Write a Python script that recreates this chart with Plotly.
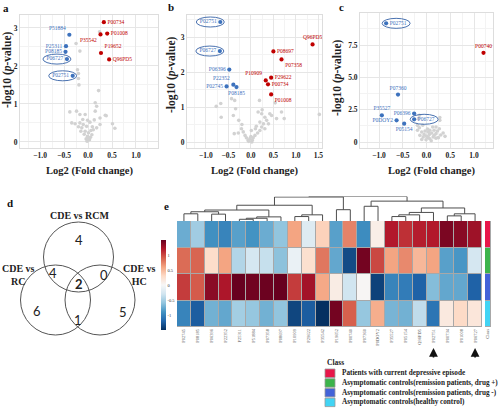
import plotly.graph_objects as go

W, H = 500, 410
SERIF = "Liberation Serif"
SANS = "Lato"

# ---------------- data ----------------
# Volcano a: CDE vs RCM
a_ids = ["P00734", "P01008", "P35542", "P19652", "Q96PD5", "P51884", "P25311", "P08185", "P06727", "P02751"]
a_fc = [0.33, 0.40, 0.26, 0.27, 0.44, -0.39, -0.46, -0.47, -0.44, -0.32]
a_p = [3.15, 2.85, 2.83, 2.34, 2.17, 2.82, 2.52, 2.37, 2.18, 1.74]
a_bg = [(0.24, 2.90), (-0.25, 2.59), (-0.17, 2.39), (-0.22, 1.90), (-0.20, 1.80), (-0.20, 1.67), (-0.19, 1.50),
        (0.22, 1.35), (0.15, 1.03), (0.18, 0.94), (0.36, 0.70), (-0.24, 0.81), (-0.17, 0.72), (-0.06, 0.72),
        (0.15, 0.81), (0.25, 0.63), (0.38, 0.69), (-0.11, 0.59), (-0.01, 0.57), (0.04, 0.52), (-0.10, 0.46),
        (-0.03, 0.41), (-0.13, 0.37), (-0.06, 0.28), (0.01, 0.24), (-0.01, 0.15), (-0.04, 0.08), (0.03, 0.06),
        (0.08, 0.19), (0.11, 0.32), (0.18, 0.37), (0.25, 0.46), (-0.17, 0.50), (-0.27, 0.48), (-0.34, 0.50),
        (-0.20, 0.40), (0.51, 0.48), (0.56, 0.36), (0.13, 0.58), (0.09, 0.40), (-0.08, 0.20), (0.05, 0.12),
        (-0.02, 0.02), (0.00, 0.10), (0.06, 0.30), (-0.15, 0.28), (-0.38, 0.79)]

# Volcano b: CDE vs RC
b_ids = ["Q96PD5", "P08697", "P07358", "P29622", "P10909", "P00734", "P01008", "P02751", "P06727", "P06396",
         "P22352", "P02745", "P08185"]
b_fc = [1.37, 0.50, 0.68, 0.45, 0.33, 0.38, 0.45, -0.68, -0.69, -0.48, -0.39, -0.54, -0.32]
b_p = [2.79, 2.59, 2.36, 1.84, 1.76, 1.65, 1.36, 3.43, 2.60, 2.07, 1.64, 1.59, 1.57]
b_bg = [(-0.77, 1.02), (-0.67, 1.10), (-0.66, 0.71), (-0.43, 1.24), (-0.36, 1.19), (-0.34, 0.95), (-0.39, 0.76),
        (-0.27, 0.62), (-0.21, 0.38), (-0.37, 0.24), (-0.28, 0.26), (-0.17, 0.29), (-0.13, 0.19), (-0.10, 0.12),
        (-0.02, 0.10), (-0.06, 0.05), (0.03, 0.05), (0.05, 0.12), (0.00, 0.16), (0.09, 0.19), (0.15, 0.26),
        (0.20, 0.33), (0.24, 0.43), (0.31, 0.38), (0.28, 0.52), (0.35, 0.62), (0.31, 0.71), (0.20, 0.57),
        (0.39, 0.52), (0.42, 0.81), (0.24, 0.81), (0.16, 0.86), (0.25, 0.92), (0.46, 0.76), (0.57, 0.67),
        (0.74, 0.67), (0.19, 1.19), (0.54, 1.12), (0.01, 0.33), (0.10, 0.38), (0.68, 0.86), (1.52, 0.79),
        (-0.05, 0.02), (0.02, 0.00), (-0.20, 0.50), (0.12, 0.45)]

# Volcano c: CDE vs HC
c_ids = ["P00740", "P02751", "P07360", "P35527", "P06396", "P0DOY2", "P06727", "P05154"]
c_fc = [1.20, -0.85, -0.60, -0.94, -0.26, -0.63, -0.26, -0.47]
c_p = [6.90, 9.18, 3.67, 2.07, 2.20, 1.68, 1.76, 1.42]
c_bg = [(-0.19, 1.29), (-0.15, 1.11), (-0.19, 0.91), (-0.10, 0.78), (-0.05, 0.59), (0.00, 0.44), (0.04, 0.34),
        (0.07, 0.26), (-0.01, 0.18), (0.14, 0.39), (0.20, 0.65), (0.23, 0.85), (0.27, 1.03), (0.28, 1.68),
        (0.28, 1.89), (0.20, 1.16), (0.16, 0.91), (0.11, 0.70), (0.06, 0.59), (0.35, 0.70), (0.39, 0.44),
        (0.25, 0.34), (-0.07, 0.39), (-0.14, 0.52), (-0.03, 0.85), (0.07, 0.91), (0.13, 1.16), (-0.17, 1.81),
        (-0.15, 2.07), (0.04, 0.78), (0.16, 0.52), (0.10, 0.10), (0.20, 0.30), (-0.10, 0.20), (0.30, 0.55),
        (0.02, 1.00), (-0.08, 1.30)]

# Heatmap
hm_cols = ["P02745", "P08185", "P06396", "P22352", "P25311", "P51884", "P07358", "P08697", "P10909", "P29622",
           "P35542", "P19652", "P00740", "P07360", "P0DOY2", "P35527", "P05154", "Q96PD5", "P02751", "P00734",
           "P01008", "P06727"]
hm_z = [
    [-0.75, -0.53, -0.92, -1.0, -0.82, -0.9, -0.75, -0.6, 0.6, -0.2, 0.35, -0.82, 0.75, -0.95, 0.1, 1.2, 1.1, 1.18, 1.2, 1.42, 1.37, 1.28],
    [0.85, 0.88, 0.28, 0.6, -0.45, -0.27, -0.35, -0.62, -0.1, 0.25, 0.8, -0.78, -1.35, 1.45, 1.0, 0.6, 0.72, 0.5, 0.6, -0.82, -0.88, -0.27],
    [1.05, 0.92, 1.36, 1.22, 1.5, 1.46, 1.48, 1.5, 1.05, 1.26, 0.58, 0.12, -0.3, 0.02, -1.4, -1.0, -1.05, -1.22, -0.65, -0.78, -0.78, -1.22],
    [-1.0, -1.25, -0.72, -0.78, -0.52, -0.58, -0.72, -0.6, -1.38, -1.25, -1.5, 1.45, 0.9, -0.58, 0.55, -0.7, -0.72, -0.38, -1.1, 0.15, 0.3, 0.18],
]
class_names = ["Patients with current depressive episode",
               "Asymptomatic controls(remission patients, drug +)",
               "Asymptomatic controls(remission patients, drug -)",
               "Asymptomatic controls(healthy control)"]
class_colors = ["#e8174a", "#3cb44b", "#4363d8", "#42d4f4"]
# dendrogram merges: (left node, right node, height); leaves 0..21, new nodes 22..
dendro_merges = [(0, 1, 21), (2, 3, 20), (22, 23, 27), (4, 5, 5), (25, 6, 8), (26, 7, 12), (24, 27, 32),
                 (8, 9, 13), (29, 10, 18), (28, 30, 46), (11, 12, 33), (31, 32, 70), (13, 14, 43),
                 (15, 16, 13), (35, 17, 18), (36, 18, 25), (19, 20, 15), (38, 21, 21), (37, 39, 38),
                 (34, 40, 58), (33, 41, 71.5)]
set_titles = ["CDE vs RCM", "CDE vs<br>RC", "CDE vs<br>HC"]

# ---------------- helpers ----------------
def fx(px):
    return px / W

def fy(py):
    return 1 - py / H

RED, BLUE, GRAYPT = "#c00000", "#3d72bd", "#d2d2d2"
GRID, MINOR = "#e6e6e6", "#f3f3f3"
LBLW = 17

a_pos = {"P00734": "middle right", "P01008": "middle right", "P35542": "bottom left", "P19652": "top right",
         "Q96PD5": "middle right", "P51884": "top left", "P25311": "middle left", "P08185": "middle left",
         "P06727": "middle left", "P02751": "middle left"}
b_pos = {"Q96PD5": "top center", "P08697": "middle right", "P07358": "bottom right", "P29622": "middle right",
         "P10909": "top left", "P00734": "middle right", "P01008": "bottom right", "P02751": "middle left",
         "P06727": "middle left", "P06396": "middle left", "P22352": "top left", "P02745": "middle left",
         "P08185": "bottom center"}
c_pos = {"P00740": "top center", "P02751": "middle right", "P07360": "top center", "P35527": "top center",
         "P06396": "middle left", "P0DOY2": "middle left", "P06727": "middle right", "P05154": "bottom center"}

panels = [
    dict(letter="a", ids=a_ids, fc=a_fc, p=a_p, bg=a_bg, pos=a_pos, xa="x", ya="y", dx=(20, 158), dy=(15, 148),
         xr=[-1.42, 1.46], yr=[-0.16, 3.34], ytv=[0, 1, 2, 3], ytt=["0", "1", "2", "3"], ymin=0.5,
         letter_xy=(6, 8), xt_xy=(89, 171), yt_xy=(7, 70)),
    dict(letter="b", ids=b_ids, fc=b_fc, p=b_p, bg=b_bg, pos=b_pos, xa="x2", ya="y2", dx=(187, 322), dy=(15, 148),
         xr=[-1.42, 1.58], yr=[-0.17, 3.63], ytv=[0, 1, 2, 3], ytt=["0", "1", "2", "3"], ymin=0.5,
         letter_xy=(171, 7), xt_xy=(254, 171), yt_xy=(172, 75)),
    dict(letter="c", ids=c_ids, fc=c_fc, p=c_p, bg=c_bg, pos=c_pos, xa="x3", ya="y3", dx=(360, 493), dy=(13, 148),
         xr=[-1.4, 1.4], yr=[-0.46, 9.98], ytv=[0, 2.5, 5, 7.5], ytt=["0", "2.5", "5.0", "7.5"], ymin=1.25,
         letter_xy=(341, 7), xt_xy=(431, 171), yt_xy=(338, 78)),
]

def axname(ref):
    return ref[0] + "axis" + ref[1:]

fig = go.Figure()
shapes, anns, axes = [], [], {}
common = set(a_ids) & set(b_ids) & set(c_ids)

tickfont = dict(family=SERIF, size=7.5, color="#222", weight="bold")
for pn in panels:
    xa, ya = pn["xa"], pn["ya"]
    fig.add_trace(go.Scatter(x=[q[0] for q in pn["bg"]], y=[q[1] for q in pn["bg"]], mode="markers",
                             marker=dict(size=3.6, color=GRAYPT), xaxis=xa, yaxis=ya, hoverinfo="skip"))
    cols = [RED if v > 0 else BLUE for v in pn["fc"]]
    fig.add_trace(go.Scatter(x=pn["fc"], y=pn["p"], mode="markers+text", text=pn["ids"],
                             textposition=[pn["pos"][i] for i in pn["ids"]],
                             textfont=dict(family=SERIF, size=5.5, color=cols),
                             marker=dict(size=4.2, color=cols), xaxis=xa, yaxis=ya, cliponaxis=False))
    axes[axname(xa)] = dict(domain=[fx(pn["dx"][0]), fx(pn["dx"][1])], range=pn["xr"], anchor=ya,
                            tick0=0, dtick=0.5, tickformat=".1f", showgrid=True, gridcolor=GRID, zeroline=False,
                            showline=True, linecolor="#dddddd", mirror=True, ticks="", tickfont=tickfont,
                            minor=dict(showgrid=True, gridcolor=MINOR, tick0=0, dtick=0.25))
    axes[axname(ya)] = dict(domain=[fy(pn["dy"][1]), fy(pn["dy"][0])], range=pn["yr"], anchor=xa,
                            tickmode="array", tickvals=pn["ytv"], ticktext=pn["ytt"], showgrid=True,
                            gridcolor=GRID, zeroline=False, showline=True, linecolor="#dddddd", mirror=True,
                            ticks="", tickfont=tickfont,
                            minor=dict(showgrid=True, gridcolor=MINOR, tickmode="linear", tick0=0, dtick=pn["ymin"]))
    # ellipses around labels of proteins found in all three comparisons
    for i, pid in enumerate(pn["ids"]):
        if pid in common:
            pos = pn["pos"][pid]
            x0, x1 = (-(LBLW + 7), 4) if "left" in pos else (-4, LBLW + 7)
            shapes.append(dict(type="circle", xref=xa, yref=ya, xsizemode="pixel", ysizemode="pixel",
                               xanchor=pn["fc"][i], yanchor=pn["p"][i], x0=x0, x1=x1, y0=-5, y1=5,
                               line=dict(color="#4a72b0", width=1)))
    lx, ly = pn["letter_xy"]
    anns.append(dict(text=pn["letter"], x=fx(lx), y=fy(ly), xref="paper", yref="paper", showarrow=False,
                     xanchor="center", yanchor="middle", font=dict(family=SERIF, size=11, color="#111", weight="bold")))
    tx, ty = pn["xt_xy"]
    anns.append(dict(text="Log2 (Fold change)", x=fx(tx), y=fy(ty), xref="paper", yref="paper", showarrow=False,
                     xanchor="center", yanchor="middle", font=dict(family=SERIF, size=10.5, color="#222", weight="bold")))
    tx, ty = pn["yt_xy"]
    anns.append(dict(text="-log10 (<i>p</i>-value)", x=fx(tx), y=fy(ty), xref="paper", yref="paper",
                     showarrow=False, textangle=-90, xanchor="center", yanchor="middle",
                     font=dict(family=SERIF, size=11.5, color="#222", weight="bold")))

# ---------------- Venn (d) ----------------
A, B, C = set(a_ids), set(b_ids), set(c_ids)
venn_counts = {
    "A": len(A - B - C), "AB": len((A & B) - C), "ABC": len(A & B & C), "AC": len((A & C) - B),
    "B": len(B - A - C), "BC": len((B & C) - A), "C": len(C - A - B),
}
venn_text_xy = {"A": (79, 240), "AB": (53, 273), "ABC": (79, 284), "AC": (104, 275), "B": (37, 311),
                "BC": (78, 320), "C": (123, 312)}
circle_geo = [(78.5, 257), (55.5, 300), (100, 300)]
R = 35
for cx, cy in circle_geo:
    shapes.append(dict(type="circle", xref="x4", yref="y4", x0=cx - R, x1=cx + R, y0=cy - R, y1=cy + R,
                       line=dict(color="#555555", width=1)))
for k, (vx, vy) in venn_text_xy.items():
    anns.append(dict(text=str(venn_counts[k]), x=vx, y=vy, xref="x4", yref="y4", showarrow=False,
                     xanchor="center", yanchor="middle",
                     font=dict(family=SANS, size=13, color="#222", weight="bold" if k == "ABC" else "normal")))
title_xy = [(79, 215), (18, 275), (139, 275)]
for t, (vx, vy) in zip(set_titles, title_xy):
    anns.append(dict(text=t, x=vx, y=vy, xref="x4", yref="y4", showarrow=False, xanchor="center",
                     yanchor="middle", font=dict(family=SERIF, size=10, color="#222", weight="bold")))
anns.append(dict(text="d", x=fx(5), y=fy(203), xref="paper", yref="paper", showarrow=False,
                 font=dict(family=SERIF, size=11, color="#111", weight="bold")))
anns.append(dict(text="e", x=fx(162), y=fy(206), xref="paper", yref="paper", showarrow=False,
                 font=dict(family=SERIF, size=11, color="#111", weight="bold")))
fig.add_trace(go.Scatter(x=[0, 160], y=[205, 345], mode="markers", marker=dict(opacity=0), xaxis="x4", yaxis="y4",
                         hoverinfo="skip"))
axes["xaxis4"] = dict(domain=[0, fx(160)], range=[0, 160], visible=False, anchor="y4")
axes["yaxis4"] = dict(domain=[fy(345), fy(205)], range=[345, 205], visible=False, anchor="x4")

# ---------------- Heatmap (e) ----------------
rdbu = ['#053061', '#2166ac', '#4393c3', '#92c5de', '#d1e5f0', '#f7f7f7', '#fddbc7', '#f4a582', '#d6604d',
        '#b2182b', '#67001f']
cs = [[i / (len(rdbu) - 1), c] for i, c in enumerate(rdbu)]
ncol = len(hm_cols)
nrow = len(hm_z)
fig.add_trace(go.Heatmap(z=hm_z, x=list(range(ncol)), y=list(range(nrow)), colorscale=cs, zmin=-1.5, zmax=1.5,
                         xgap=1, ygap=1, xaxis="x5", yaxis="y5", hoverinfo="skip",
                         colorbar=dict(x=fx(161), xanchor="left", y=fy(285), yanchor="middle", len=90 / H,
                                       thickness=5, outlinewidth=0, tickvals=[-1, -0.5, 0, 0.5, 1],
                                       ticktext=["-1", "-0.5", "0", "0.5", "1"], ticks="", xpad=0, ypad=0,
                                       tickfont=dict(family=SERIF, size=4.5, color="#333"))))
shapes.append(dict(type="rect", xref="x5", yref="y5", x0=-0.5, x1=ncol - 0.5, y0=-0.5, y1=nrow - 0.5,
                   fillcolor="#a8a8a8", line=dict(width=0), layer="below"))
lbl_font = dict(family=SERIF, size=4.5, color="#555")
axes["xaxis5"] = dict(domain=[fx(177), fx(482)], range=[-0.5, ncol - 0.5], anchor="y5", tickmode="array",
                      tickvals=list(range(ncol)), ticktext=hm_cols, tickangle=-90, tickfont=lbl_font,
                      showgrid=False, zeroline=False, showline=False, ticks="")
axes["yaxis5"] = dict(domain=[fy(327), fy(221)], range=[nrow - 0.5, -0.5], anchor="x5", showgrid=False,
                      zeroline=False, showticklabels=False, ticks="")
# class bar
ncls = len(class_colors)
cls_cs = []
for i, c in enumerate(class_colors):
    cls_cs += [[i / ncls, c], [(i + 1) / ncls, c]]
fig.add_trace(go.Heatmap(z=[[i] for i in range(ncls)], x=[0], y=list(range(ncls)), colorscale=cls_cs,
                         zmin=-0.5, zmax=ncls - 0.5, showscale=False, xgap=1, ygap=1, xaxis="x6", yaxis="y6",
                         hoverinfo="skip"))
shapes.append(dict(type="rect", xref="x6", yref="y6", x0=-0.5, x1=0.5, y0=-0.5, y1=ncls - 0.5,
                   fillcolor="#a8a8a8", line=dict(width=0), layer="below"))
axes["xaxis6"] = dict(domain=[fx(485), fx(491)], range=[-0.5, 0.5], anchor="y6", tickmode="array", tickvals=[0],
                      ticktext=["Class"], tickangle=-90, tickfont=lbl_font, showgrid=False, zeroline=False,
                      showline=False, ticks="")
axes["yaxis6"] = dict(domain=[fy(327), fy(221)], range=[ncls - 0.5, -0.5], anchor="x6", showgrid=False,
                      zeroline=False, showticklabels=False, ticks="")

# dendrogram
node_x = {i: float(i) for i in range(ncol)}
node_h = {i: 0.0 for i in range(ncol)}
dxs, dys = [], []
for k, (l, r, h) in enumerate(dendro_merges):
    xl, xr = node_x[l], node_x[r]
    dxs += [xl, xl, xr, xr, None]
    dys += [node_h[l], h, h, node_h[r], None]
    node_x[ncol + k] = (xl + xr) / 2
    node_h[ncol + k] = h
fig.add_trace(go.Scatter(x=dxs, y=dys, mode="lines", line=dict(color="#4d4d4d", width=1), xaxis="x7",
                         yaxis="y7", hoverinfo="skip", cliponaxis=False))
top_h = max(m[2] for m in dendro_merges)
axes["xaxis7"] = dict(domain=[fx(177), fx(482)], range=[-0.5, ncol - 0.5], anchor="y7", visible=False)
axes["yaxis7"] = dict(domain=[fy(221), fy(196.5)], range=[0, top_h], anchor="x7", visible=False)

# arrows under highlighted proteins
for pid in hm_cols:
    if pid in common:
        anns.append(dict(text="", x=hm_cols.index(pid), y=fy(348), xref="x5", yref="paper", showarrow=True,
                         ax=0, ay=11, arrowhead=2, arrowsize=1.1, arrowwidth=1.6, arrowcolor="#111"))

# class legend
anns.append(dict(text="Class", x=fx(325), y=fy(362), xref="paper", yref="paper", showarrow=False,
                 xanchor="left", yanchor="middle", font=dict(family=SERIF, size=7.5, color="#222", weight="bold")))
for i, (nm, col) in enumerate(zip(class_names, class_colors)):
    top = 369 + 9.7 * i
    shapes.append(dict(type="rect", xref="paper", yref="paper", x0=fx(325), x1=fx(335), y0=fy(top + 8.5),
                       y1=fy(top), fillcolor=col, line=dict(color="#999999", width=0.8)))
    anns.append(dict(text=nm, x=fx(340), y=fy(top + 4.3), xref="paper", yref="paper", showarrow=False,
                     xanchor="left", yanchor="middle",
                     font=dict(family=SERIF, size=7.2, color="#222", weight="bold")))

fig.update_layout(width=W, height=H, margin=dict(l=0, r=0, t=0, b=0), template="none",
                  paper_bgcolor="white", plot_bgcolor="white", showlegend=False,
                  shapes=shapes, annotations=anns, **axes)
fig.write_html("out.html", config={"displayModeBar": False},
               post_script="document.body.style.margin='0px';document.body.style.overflow='hidden';")
